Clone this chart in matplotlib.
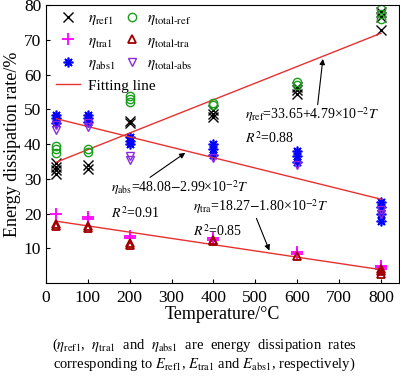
import numpy as np
import matplotlib
matplotlib.use('Agg')
import matplotlib.pyplot as plt

plt.rcParams['font.family'] = ['Liberation Serif', 'DejaVu Serif']
plt.rcParams['mathtext.fontset'] = 'stix'

# temperatures and measured points (several repeats per temperature)
temp_ref1 = [25]*4 + [100]*2 + [200]*2 + [400]*3 + [600]*3 + [800]*3
eta_ref1 = [31.5, 32.5, 33.5, 34.5, 33.0, 34.0, 46.0, 46.8, 47.8, 48.8, 49.8,
            54.5, 55.5, 56.5, 73.0, 76.5, 78.0]

temp_tra1 = [25, 100, 100, 200, 200, 400, 400, 600, 600, 800, 800, 800]
eta_tra1 = [19.8, 18.5, 19.0, 13.0, 13.5, 12.5, 13.0, 8.5, 9.0, 4.0, 4.5, 5.0]

temp_abs1 = [25]*3 + [100]*3 + [200]*3 + [400]*3 + [600]*3 + [800]*4
eta_abs1 = [46.0, 47.5, 48.5, 46.5, 47.5, 48.5, 40.0, 41.0, 42.0, 37.0, 38.5, 40.0,
            35.0, 36.5, 38.0, 18.0, 20.0, 22.0, 23.5]

temp_tref = [25]*3 + [100]*2 + [200]*3 + [400]*2 + [600]*2 + [800]*3
eta_total_ref = [37.5, 38.5, 39.5, 37.8, 38.5, 52.2, 53.0, 53.8, 51.2, 52.0,
                 57.0, 58.0, 76.0, 77.5, 79.0]

temp_ttra = [25, 25, 100, 100, 200, 200, 400, 400, 600, 800, 800, 800]
eta_total_tra = [16.5, 17.0, 16.0, 16.5, 11.0, 11.5, 12.0, 12.5, 7.8, 2.5, 3.5, 4.0]

temp_tabs = [25, 25, 100, 100, 200, 200, 400, 600, 800, 800]
eta_total_abs = [44.0, 45.5, 45.0, 46.0, 35.5, 36.5, 36.0, 34.0, 20.0, 21.0]

# fitted coefficients (intercept, slope)
fit_ref = (33.65, 4.79e-2)
fit_abs = (48.08, -2.99e-2)
fit_tra = (18.27, -1.80e-2)

fig = plt.figure(figsize=(4, 3.8), dpi=100)
ax = fig.add_axes([0.115, 0.255, 0.8825, 0.731])

h1, = ax.plot(temp_ref1, eta_ref1, 'x', color='black', ms=7, mew=1.0, ls='none',
              label=r'$\eta_{\rm ref1}$')
h2, = ax.plot(temp_tra1, eta_tra1, '+', color='#ff00ff', ms=8, mew=1.3, ls='none',
              label=r'$\eta_{\rm tra1}$')
h3, = ax.plot(temp_abs1, eta_abs1, marker=(8, 2, 0), color='#0000ff', ms=7, mew=1.2, ls='none',
              label=r'$\eta_{\rm abs1}$')

tt = np.array([25, 800])
h4, = ax.plot(tt, fit_ref[0] + fit_ref[1]*tt, color='#e8312f', lw=1.0, label='Fitting line')
ax.plot(tt, fit_abs[0] + fit_abs[1]*tt, color='#e8312f', lw=1.0)
ax.plot(tt, fit_tra[0] + fit_tra[1]*tt, color='#e8312f', lw=1.0)

h5, = ax.plot(temp_tref, eta_total_ref, 'o', mfc='none', mec='#1aa01a', ms=6, mew=1.0, ls='none',
              label=r'$\eta_{\rm total\text{-}ref}$')
h6, = ax.plot(temp_ttra, eta_total_tra, '^', mfc='none', mec='#a00000', ms=6, mew=1.3, ls='none',
              label=r'$\eta_{\rm total\text{-}tra}$')
h7, = ax.plot(temp_tabs, eta_total_abs, 'v', mfc='none', mec='#8a2be2', ms=6, mew=1.0, ls='none',
              label=r'$\eta_{\rm total\text{-}abs}$')

ax.set_xlim(0, 843)
ax.set_ylim(0, 80)
ax.set_xticks(range(0, 801, 100))
ax.set_yticks(range(10, 81, 10))
ax.tick_params(direction='in', labelsize=12.5, length=3)
ax.tick_params(axis='x', pad=5)
ax.set_xlabel('Temperature/°C', fontsize=13, labelpad=0)
ax.set_ylabel('Energy dissipation rate/%', fontsize=13, labelpad=2)

leg1 = ax.legend(handles=[h1, h2, h3, h4], loc='upper left', frameon=False, fontsize=11,
                 handlelength=1.6, handletextpad=0.5, labelspacing=0.45,
                 borderaxespad=0.0, bbox_to_anchor=(0.01, 1.0))
ax.add_artist(leg1)
ax.legend(handles=[h5, h6, h7], loc='upper left', frameon=False, fontsize=11,
          handlelength=1.0, handletextpad=0.5, labelspacing=0.45,
          borderaxespad=0.0, bbox_to_anchor=(0.205, 1.0))

# equations with arrows
ax.annotate('', xy=(662, fit_ref[0] + fit_ref[1]*662), xytext=(648, 50.6),
            arrowprops=dict(arrowstyle='-|>', color='black', lw=0.8, mutation_scale=8))
ax.text(476, 48.6, r'$\eta_{\rm ref}$=33.65+4.79×10$^{-2}$$T$', fontsize=10, va='center')
ax.text(476, 41.7, r'$R^2$=0.88', fontsize=10, va='center')

ax.annotate('', xy=(338, fit_abs[0] + fit_abs[1]*338), xytext=(243, 30.0),
            arrowprops=dict(arrowstyle='-|>', color='black', lw=0.8, mutation_scale=8))
ax.text(155, 27.4, r'$\eta_{\rm abs}$=48.08$-$2.99×10$^{-2}$$T$', fontsize=10, va='center')
ax.text(155, 20.3, r'$R^2$=0.91', fontsize=10, va='center')

ax.annotate('', xy=(536, fit_tra[0] + fit_tra[1]*536), xytext=(500, 19.4),
            arrowprops=dict(arrowstyle='-|>', color='black', lw=0.8, mutation_scale=8))
ax.text(350, 22.0, r'$\eta_{\rm tra}$=18.27$-$1.80×10$^{-2}$$T$', fontsize=10, va='center')
ax.text(350, 15.1, r'$R^2$=0.85', fontsize=10, va='center')

fig.text(0.51, 0.092, r'($\eta_{\rm ref1}$,  $\eta_{\rm tra1}$  and  $\eta_{\rm abs1}$  are  energy  dissipation  rates',
         ha='center', va='center', fontsize=10.5)
fig.text(0.51, 0.04, r'corresponding to $E_{\rm ref1}$, $E_{\rm tra1}$ and $E_{\rm abs1}$, respectively)',
         ha='center', va='center', fontsize=10.5)

fig.savefig('out.png', dpi=100)
